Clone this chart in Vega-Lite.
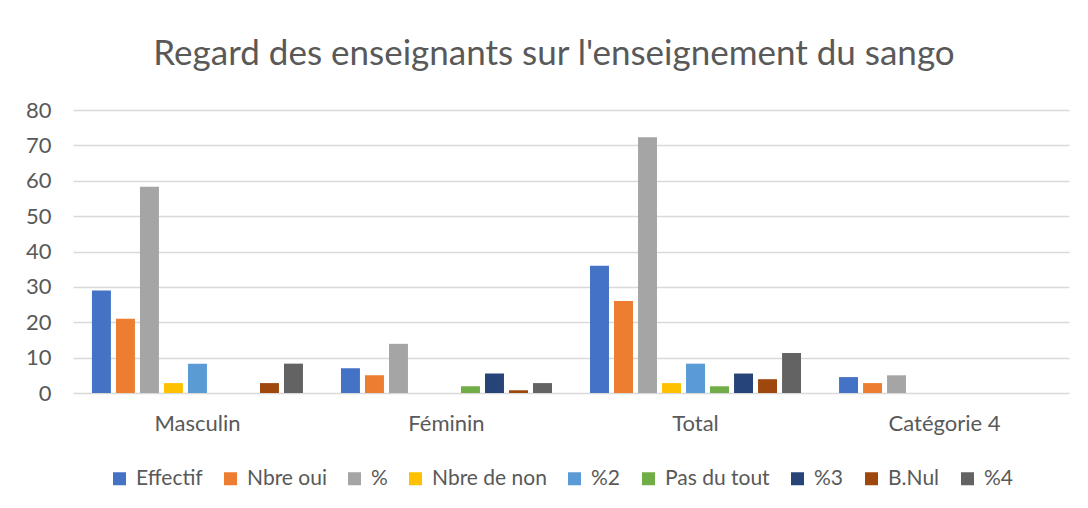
{
  "$schema": "https://vega.github.io/schema/vega-lite/v6.json",
  "autosize": "none",
  "width": 996,
  "height": 283,
  "padding": {"left": 73, "top": 110, "right": 19, "bottom": 115},
  "background": "white",
  "title": {
    "text": "Regard des enseignants sur l'enseignement du sango",
    "fontSize": 35,
    "font": "Lato",
    "fontWeight": "normal",
    "color": "#595959",
    "anchor": "middle",
    "offset": 27,
    "dx": -17
  },
  "data": {
    "values": [
      {"cat": "Masculin", "serie": "Effectif", "v": 29},
      {"cat": "Masculin", "serie": "Nbre oui", "v": 21},
      {"cat": "Masculin", "serie": "%", "v": 58.3},
      {"cat": "Masculin", "serie": "Nbre de non", "v": 2.8},
      {"cat": "Masculin", "serie": "%2", "v": 8.3},
      {"cat": "Masculin", "serie": "Pas du tout", "v": 0},
      {"cat": "Masculin", "serie": "%3", "v": 0},
      {"cat": "Masculin", "serie": "B.Nul", "v": 2.8},
      {"cat": "Masculin", "serie": "%4", "v": 8.3},
      {"cat": "Féminin", "serie": "Effectif", "v": 7},
      {"cat": "Féminin", "serie": "Nbre oui", "v": 5},
      {"cat": "Féminin", "serie": "%", "v": 13.9},
      {"cat": "Féminin", "serie": "Nbre de non", "v": 0},
      {"cat": "Féminin", "serie": "%2", "v": 0},
      {"cat": "Féminin", "serie": "Pas du tout", "v": 1.9},
      {"cat": "Féminin", "serie": "%3", "v": 5.5},
      {"cat": "Féminin", "serie": "B.Nul", "v": 0.8},
      {"cat": "Féminin", "serie": "%4", "v": 2.8},
      {"cat": "Total", "serie": "Effectif", "v": 36},
      {"cat": "Total", "serie": "Nbre oui", "v": 26},
      {"cat": "Total", "serie": "%", "v": 72.3},
      {"cat": "Total", "serie": "Nbre de non", "v": 2.8},
      {"cat": "Total", "serie": "%2", "v": 8.3},
      {"cat": "Total", "serie": "Pas du tout", "v": 1.9},
      {"cat": "Total", "serie": "%3", "v": 5.5},
      {"cat": "Total", "serie": "B.Nul", "v": 3.9},
      {"cat": "Total", "serie": "%4", "v": 11.3},
      {"cat": "Catégorie 4", "serie": "Effectif", "v": 4.5},
      {"cat": "Catégorie 4", "serie": "Nbre oui", "v": 2.8},
      {"cat": "Catégorie 4", "serie": "%", "v": 5}
    ]
  },
  "mark": {"type": "bar"},
  "encoding": {
    "x": {
      "field": "cat",
      "type": "nominal",
      "sort": ["Masculin", "Féminin", "Total", "Catégorie 4"],
      "scale": {"paddingInner": 0.1325, "paddingOuter": 0.066},
      "axis": {
        "title": null,
        "labelAngle": 0,
        "domain": false,
        "ticks": false,
        "labelFont": "Lato",
        "labelFontSize": 22,
        "labelColor": "#595959",
        "labelPadding": 20
      }
    },
    "xOffset": {
      "field": "serie",
      "type": "nominal",
      "sort": ["Effectif", "Nbre oui", "%", "Nbre de non", "%2", "Pas du tout", "%3", "B.Nul", "%4"],
      "scale": {"paddingInner": 0.21, "paddingOuter": 0.105}
    },
    "y": {
      "field": "v",
      "type": "quantitative",
      "scale": {"domain": [0, 80]},
      "axis": {
        "title": null,
        "values": [0, 10, 20, 30, 40, 50, 60, 70, 80],
        "domain": false,
        "ticks": false,
        "gridColor": "#D9D9D9",
        "gridWidth": 1.3,
        "labelFont": "Lato",
        "labelFontSize": 22,
        "labelColor": "#595959",
        "labelPadding": 22
      }
    },
    "color": {
      "field": "serie",
      "type": "nominal",
      "scale": {
        "domain": ["Effectif", "Nbre oui", "%", "Nbre de non", "%2", "Pas du tout", "%3", "B.Nul", "%4"],
        "range": ["#4472C4", "#ED7D31", "#A5A5A5", "#FFC000", "#5B9BD5", "#70AD47", "#264478", "#9E480E", "#636363"]
      },
      "legend": {
        "title": null,
        "orient": "none",
        "legendX": 36,
        "legendY": 358,
        "direction": "horizontal",
        "columns": 9,
        "symbolType": "square",
        "symbolSize": 169,
        "symbolStrokeWidth": 0,
        "labelFont": "Lato",
        "labelFontSize": 21,
        "labelColor": "#595959",
        "labelOffset": 6,
        "columnPadding": 17
      }
    }
  },
  "config": {
    "view": {"stroke": null}
  }
}
